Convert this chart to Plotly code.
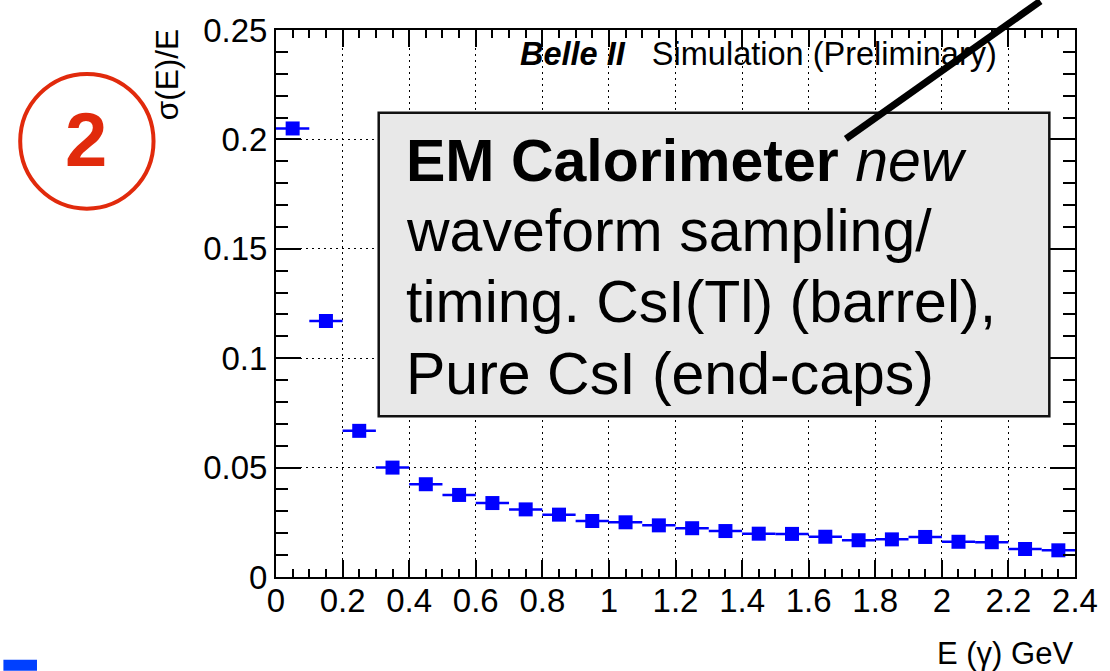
import plotly.graph_objects as go

# ---- data ----
energy_gev = [0.05, 0.15, 0.25, 0.35, 0.45, 0.55, 0.65, 0.75, 0.85, 0.95, 1.05, 1.15,
              1.25, 1.35, 1.45, 1.55, 1.65, 1.75, 1.85, 1.95, 2.05, 2.15, 2.25, 2.35]
resolution = [0.205, 0.117, 0.0668, 0.0500, 0.0424, 0.0375, 0.0338, 0.0309, 0.0285, 0.0256,
              0.0250, 0.0236, 0.0223, 0.0210, 0.0198, 0.0197, 0.0184, 0.0168, 0.0172, 0.0183,
              0.0161, 0.0159, 0.0128, 0.0122]
bin_half_width = [0.05] * len(energy_gev)

x_tickvals = [0, 0.2, 0.4, 0.6, 0.8, 1.0, 1.2, 1.4, 1.6, 1.8, 2.0, 2.2, 2.4]
x_ticktext = ["0", "0.2", "0.4", "0.6", "0.8", "1", "1.2", "1.4", "1.6", "1.8", "2", "2.2", "2.4"]
y_tickvals = [0, 0.05, 0.1, 0.15, 0.2, 0.25]
y_ticktext = ["0", "0.05", "0.1", "0.15", "0.2", "0.25"]

box_lines = ["<b>EM Calorimeter</b> <i>new</i>",
             "waveform sampling/",
             "timing. CsI(Tl) (barrel),",
             "Pure CsI (end-caps)"]

# ---- layout geometry (pixels) ----
W, H = 1110, 671
L, R, T, B = 276, 1085, 29, 577
PW, PH = R - L, B - T


def px(x):
    return (x - L) / PW


def py(y):
    return (B - y) / PH


FONT = "Liberation Sans, Arial, Helvetica, sans-serif"
RED = "#e12a0c"

fig = go.Figure()
fig.add_trace(go.Scatter(
    x=energy_gev, y=resolution, mode="markers",
    marker=dict(symbol="square", size=14, color="#0000ff"),
    error_x=dict(type="data", array=bin_half_width, color="#0000ff", thickness=2.5, width=0),
    showlegend=False, cliponaxis=False,
))

axis_common = dict(showline=True, linecolor="black", linewidth=2, mirror="allticks",
                   ticks="inside", tickcolor="black", tickwidth=1.5,
                   showgrid=True, gridcolor="black", griddash="2px,4px", gridwidth=1,
                   zeroline=False, tickfont=dict(family=FONT, size=33, color="black"))

fig.update_xaxes(range=[0, 2.4], tickvals=x_tickvals, ticktext=x_ticktext, ticklen=17,
                 minor=dict(dtick=0.05, tick0=0, ticklen=8, ticks="inside", tickcolor="black",
                            showgrid=False),
                 ticklabelstandoff=-7, **axis_common)
fig.update_yaxes(range=[0, 0.25], tickvals=y_tickvals, ticktext=y_ticktext, ticklen=25,
                 minor=dict(dtick=0.01, tick0=0, ticklen=12, ticks="inside", tickcolor="black",
                            showgrid=False),
                 ticklabelstandoff=0, **axis_common)

shapes = [
    # text box
    dict(type="rect", xref="paper", yref="paper", x0=px(380), x1=px(1059), y0=py(416), y1=py(112),
         fillcolor="#e8e8e8", line=dict(color="#111111", width=2.5)),
    # pointer line
    dict(type="line", xref="paper", yref="paper", x0=px(853), y0=py(138), x1=px(1050), y1=py(0),
         line=dict(color="black", width=7)),
    # red circle
    dict(type="circle", xref="paper", yref="paper", x0=px(17), x1=px(152), y0=py(208), y1=py(73),
         line=dict(color=RED, width=4)),
    # blue fragment bottom-left
    dict(type="rect", xref="paper", yref="paper", x0=px(0), x1=px(34), y0=py(671), y1=py(660),
         fillcolor="#0040ff", line=dict(width=0)),
]

annotations = [
    dict(text="<b><i>Belle II</i></b>   Simulation (Preliminary)", x=px(521), y=py(53),
         xanchor="left", yanchor="middle", font=dict(family=FONT, size=32.5, color="black")),
    dict(text="σ(E)/E", x=px(166), y=py(74), textangle=-90, xanchor="center", yanchor="middle",
         font=dict(family=FONT, size=31.5, color="black")),
    dict(text="E (γ) GeV", x=px(1085), y=py(654), xanchor="right", yanchor="middle",
         font=dict(family=FONT, size=31, color="black")),
    dict(text="<b>2</b>", x=px(84), y=py(139), xanchor="center", yanchor="middle",
         font=dict(family=FONT, size=76, color=RED)),
]
for i, (line, yc) in enumerate(zip(box_lines, [160, 230, 301, 374])):
    annotations.append(dict(text=line, x=px(406), y=py(yc), xanchor="left", yanchor="middle",
                            font=dict(family=FONT, size=59, color="black")))
for a in annotations:
    a.update(xref="paper", yref="paper", showarrow=False)

fig.update_layout(width=W, height=H, margin=dict(l=L, r=W - R, t=T, b=H - B),
                  paper_bgcolor="white", plot_bgcolor="white",
                  shapes=shapes, annotations=annotations,
                  font=dict(family=FONT, color="black"))

fig.write_html("out.html")
